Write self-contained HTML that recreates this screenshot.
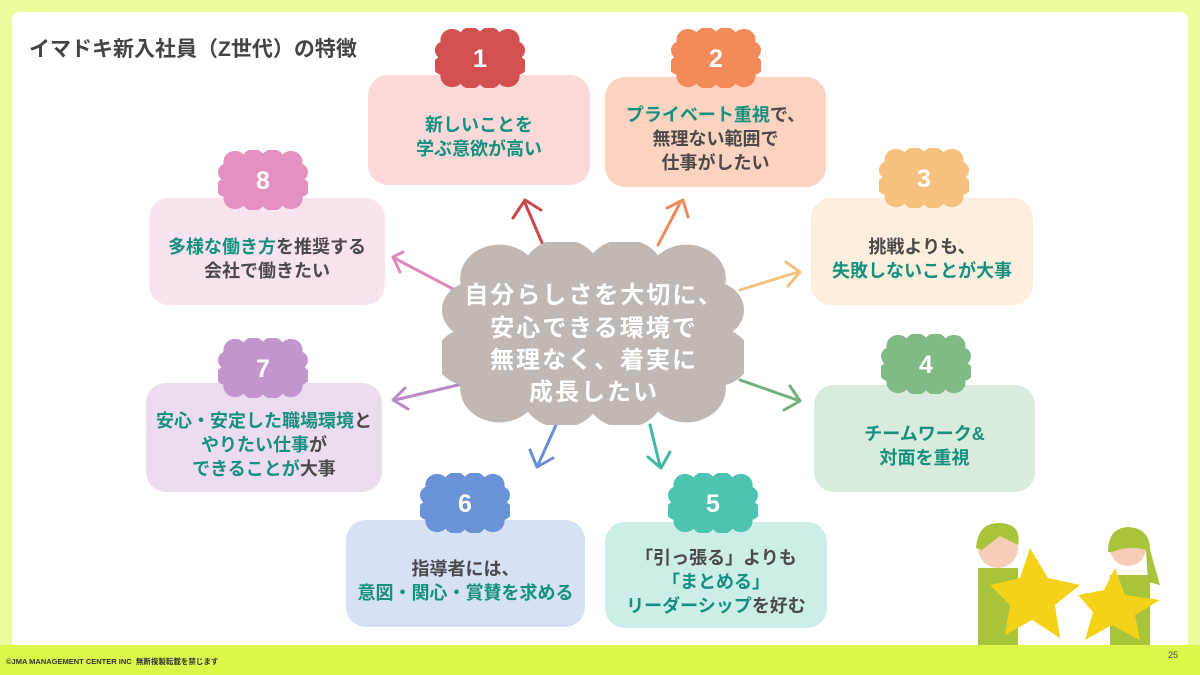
<!DOCTYPE html>
<html><head><meta charset="utf-8"><style>
*{margin:0;padding:0;box-sizing:border-box}
body{width:1200px;height:675px;overflow:hidden;background:#dcf84a;font-family:"Liberation Sans","Noto Sans CJK JP",sans-serif;position:relative}
.top{position:absolute;left:0;top:0;width:1200px;height:645px;background:#eefb9c}
.panel{position:absolute;left:12px;top:12px;width:1176px;height:633px;background:#fff;border-radius:8px 8px 0 0}
.title{position:absolute;left:29px;top:33px;font-size:21px;font-weight:bold;color:#444}
.box{position:absolute;border-radius:20px;display:flex;align-items:center;justify-content:center;text-align:center;font-size:18px;font-weight:bold;line-height:24px;color:#4a4a4a;padding-top:14px;white-space:nowrap}
.t{color:#14907e}
svg{position:absolute;left:0;top:0}
.ft{position:absolute;left:6px;top:656px;font-size:7.5px;font-weight:bold;color:#333}
.pg{position:absolute;left:1168px;top:650px;font-size:9px;color:#444}
</style></head><body>
<div class="top"></div><div class="panel"></div>
<div class="title">イマドキ新入社員（Z世代）の特徴</div>

<div class="box" style="left:368px;top:75px;width:222px;height:110px;background:#fcd9d9"><div class="t">新しいことを<br>学ぶ意欲が高い</div></div>
<div class="box" style="left:605px;top:77px;width:221px;height:110px;background:#fcd3c0"><div><span class="t">プライベート重視</span>で、<br>無理ない範囲で<br>仕事がしたい</div></div>
<div class="box" style="left:811px;top:198px;width:222px;height:107px;background:#fdeedd"><div>挑戦よりも、<br><span class="t">失敗しないことが大事</span></div></div>
<div class="box" style="left:814px;top:385px;width:221px;height:107px;background:#d9ebdc"><div class="t">チームワーク&amp;<br>対面を重視</div></div>
<div class="box" style="left:605px;top:522px;width:222px;height:106px;background:#ccede8"><div>「引っ張る」よりも<br><span class="t">「まとめる」</span><br><span class="t">リーダーシップ</span>を好む</div></div>
<div class="box" style="left:346px;top:520px;width:239px;height:107px;background:#d6e1f5"><div>指導者には、<br><span class="t">意図・関心・賞賛を求める</span></div></div>
<div class="box" style="left:146px;top:383px;width:236px;height:109px;background:#eddcef"><div><span class="t">安心・安定した職場環境</span>と<br><span class="t">やりたい仕事</span>が<br><span class="t">できることが</span>大事</div></div>
<div class="box" style="left:149px;top:198px;width:236px;height:107px;background:#f9e3f1"><div><span class="t">多様な働き方</span>を推奨する<br>会社で働きたい</div></div>

<svg width="1200" height="675" viewBox="0 0 1200 675">
<defs>
<symbol id="c" viewBox="0 0 100 70" preserveAspectRatio="none">
<rect x="8" y="10" width="84" height="50"/>
<circle cx="19" cy="14" r="13"/><circle cx="39.5" cy="12" r="13"/><circle cx="60.5" cy="12" r="13"/><circle cx="81" cy="14" r="13"/>
<circle cx="19" cy="56" r="13"/><circle cx="39.5" cy="58" r="13"/><circle cx="60.5" cy="58" r="13"/><circle cx="81" cy="56" r="13"/>
<circle cx="11" cy="26" r="11"/><circle cx="9" cy="44" r="11"/><circle cx="89" cy="26" r="11"/><circle cx="91" cy="44" r="11"/>
</symbol>
</defs>
<g fill="none" stroke-width="3" stroke-linecap="round" stroke-linejoin="round">
<path d="M543 245 L525 203 M513 218 L525 200 L541 210" stroke="#c94848"/>
<path d="M658 245 L680 203 M667 208 L683 200 L688 217" stroke="#f08a5a"/>
<path d="M740 290 L798 272 M786 262 L800 272 L788 286" stroke="#f5c27e"/>
<path d="M740 380 L797 400 M790 386 L800 401 L784 410" stroke="#72b07a"/>
<path d="M650 425 L660 466 M648 457 L661 468 L670 452" stroke="#3fb8a4"/>
<path d="M556 425 L538 465 M530 450 L537 467 L553 458" stroke="#6a8fd4"/>
<path d="M462 384 L395 400 M405 388 L393 400 L408 409" stroke="#b88ac6"/>
<path d="M455 290 L396 259 M403 252 L393 257 L400 272" stroke="#df88bb"/>
</g>
<use href="#c" x="442" y="242" width="302" height="183" fill="#bfb8b3"/>
<use href="#c" x="435" y="28" width="90" height="60" fill="#d35050"/>
<use href="#c" x="671" y="28" width="90" height="60" fill="#f4895a"/>
<use href="#c" x="879" y="148" width="90" height="60" fill="#f6c07f"/>
<use href="#c" x="881" y="334" width="90" height="60" fill="#80bb86"/>
<use href="#c" x="668" y="473" width="90" height="60" fill="#4dc4b0"/>
<use href="#c" x="420" y="473" width="90" height="60" fill="#6a92d6"/>
<use href="#c" x="218" y="338" width="90" height="60" fill="#c295cc"/>
<use href="#c" x="218" y="150" width="90" height="60" fill="#e590c3"/>
<g fill="#fff" font-size="25" font-weight="bold" text-anchor="middle" font-family="Liberation Sans, sans-serif">
<text x="480" y="67">1</text><text x="716" y="67">2</text><text x="924" y="187">3</text><text x="926" y="373">4</text>
<text x="713" y="512">5</text><text x="465" y="512">6</text><text x="263" y="377">7</text><text x="263" y="189">8</text>
</g>
<g fill="#fff" font-size="24" font-weight="bold" text-anchor="middle" letter-spacing="2" font-family="Liberation Sans, Noto Sans CJK JP, sans-serif">
<text x="594" y="303">自分らしさを大切に、</text>
<text x="594" y="336">安心できる環境で</text>
<text x="594" y="368">無理なく、着実に</text>
<text x="594" y="400">成長したい</text>
</g>
<g>
<rect x="978" y="568" width="40" height="77" fill="#a8c43a"/>
<circle cx="998" cy="548" r="20" fill="#f6cdb6"/>
<path d="M976 548 Q978 522 1000 523 Q1022 524 1018 545 L1000 536 L982 550Z" fill="#a8c43a"/>
<path d="M1030 548 L1048 578 L1080 585 L1055 605 L1060 638 L1032 620 L1005 635 L1010 605 L990 585 L1020 578Z" fill="#f5d21a"/>
<rect x="1110" y="575" width="40" height="70" fill="#a8c43a"/>
<circle cx="1128" cy="548" r="18" fill="#f6cdb6"/>
<path d="M1108 552 Q1108 528 1128 527 Q1150 528 1150 550 L1160 585 L1148 582 L1146 550 Q1130 545 1112 552Z" fill="#a8c43a"/>
<path d="M1115 568 L1125 595 L1160 600 L1135 615 L1140 640 L1112 625 L1085 640 L1093 612 L1078 595 L1104 590Z" fill="#f5d21a"/>
</g>
</svg>
<div class="ft">©JMA MANAGEMENT CENTER INC&nbsp; 無断複製転載を禁じます</div>
<div class="pg">25</div>
</body></html>
